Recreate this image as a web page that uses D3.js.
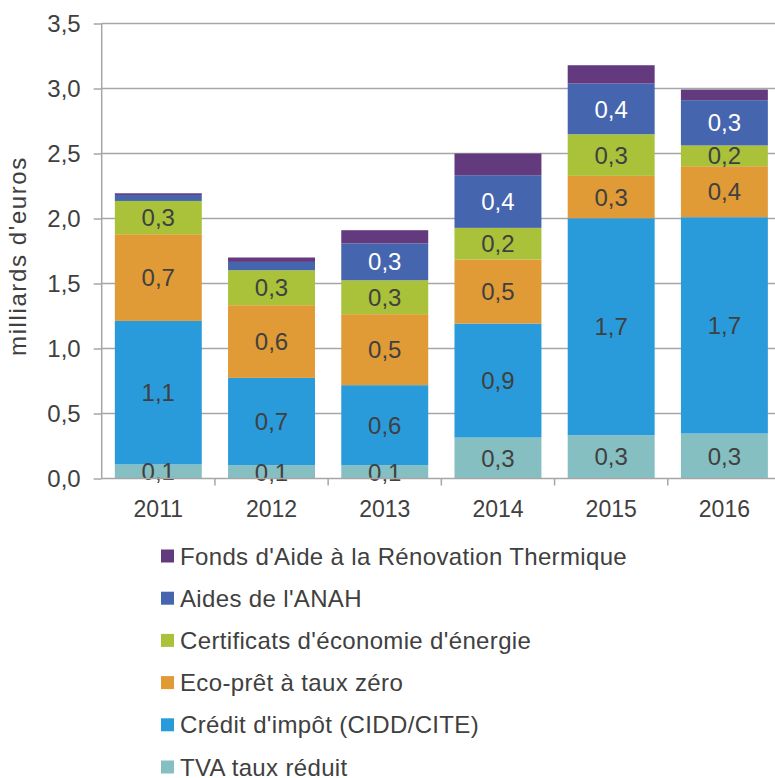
<!DOCTYPE html>
<html>
<head>
<meta charset="utf-8">
<script src="https://cdn.jsdelivr.net/npm/d3@7"></script>
<style>
  body { margin: 0; background: #fff; overflow: hidden; }
  svg { display: block; }
  svg text { font-family: "Liberation Sans", Arial, sans-serif; fill: #404040; }
</style>
</head>
<body>
<div id="chart"></div>
<script>
// years on the x axis
const years = ["2011", "2012", "2013", "2014", "2015", "2016"];

// series values, bottom of the stack first (milliards d'euros)
const tva     = [0.108, 0.102, 0.102, 0.315, 0.333, 0.346];
const credit  = [1.104, 0.672, 0.616, 0.877, 1.669, 1.664];
const ecoPret = [0.667, 0.559, 0.546, 0.493, 0.326, 0.392];
const cee     = [0.256, 0.269, 0.261, 0.243, 0.320, 0.160];
const anah    = [0.046, 0.064, 0.283, 0.405, 0.390, 0.348];
const fart    = [0.013, 0.034, 0.102, 0.167, 0.141, 0.082];

const yTicks = [0, 0.5, 1, 1.5, 2, 2.5, 3, 3.5];

const series = [
  { key: "tva",     name: "TVA taux réduit",                       values: tva,     color: "#86bfc1", label: "#404040" },
  { key: "credit",  name: "Crédit d'impôt (CIDD/CITE)",            values: credit,  color: "#299bdb", label: "#404040" },
  { key: "ecoPret", name: "Eco-prêt à taux zéro",                  values: ecoPret, color: "#e09a36", label: "#404040" },
  { key: "cee",     name: "Certificats d'économie d'énergie",      values: cee,     color: "#a9c23a", label: "#404040" },
  { key: "anah",    name: "Aides de l'ANAH",                       values: anah,    color: "#4565ae", label: "#ffffff" },
  { key: "fart",    name: "Fonds d'Aide à la Rénovation Thermique", values: fart,   color: "#643a7f", label: null }
];

const width = 775, height = 778;
const margin = { top: 23.5, right: -6, bottom: 299.5, left: 101.7 };
const innerWidth = width - margin.left - margin.right;
const innerHeight = height - margin.top - margin.bottom;

const svg = d3.select("#chart").append("svg")
  .attr("width", width)
  .attr("height", height);

const g = svg.append("g")
  .attr("transform", `translate(${margin.left},${margin.top})`);

const rows = years.map((y, i) => {
  const r = { year: y };
  series.forEach(s => r[s.key] = s.values[i]);
  return r;
});

const stacked = d3.stack().keys(series.map(s => s.key))(rows);

const x = d3.scaleBand().domain(years).range([0, innerWidth]).padding(0);
const y = d3.scaleLinear().domain([0, 3.5]).range([innerHeight, 0]);

const barPad = 0.116;
const barW = x.bandwidth() * (1 - 2 * barPad);

// gridlines
g.append("g")
  .selectAll("line")
  .data(yTicks.filter(d => d > 0))
  .enter().append("line")
    .attr("x1", 0)
    .attr("x2", innerWidth)
    .attr("y1", d => y(d))
    .attr("y2", d => y(d))
    .attr("stroke", "#a6a6a6")
    .attr("stroke-width", 1.5);

// bars
const layers = g.append("g")
  .selectAll("g")
  .data(stacked)
  .enter().append("g")
    .attr("fill", (d, i) => series[i].color);

layers.selectAll("rect")
  .data(d => d)
  .enter().append("rect")
    .attr("x", d => x(d.data.year) + x.bandwidth() * barPad)
    .attr("width", barW)
    .attr("y", d => y(d[1]))
    .attr("height", d => y(d[0]) - y(d[1]));

// value labels
const fmt = v => d3.format(".1f")(v).replace(".", ",");
stacked.forEach((layer, i) => {
  const s = series[i];
  if (!s.label) return;
  g.append("g").selectAll("text")
    .data(layer.filter(d => d[1] - d[0] >= 0.09))
    .enter().append("text")
      .attr("x", d => x(d.data.year) + x.bandwidth() / 2)
      .attr("y", d => (y(d[0]) + y(d[1])) / 2)
      .attr("dy", "0.36em")
      .attr("text-anchor", "middle")
      .style("font-size", "24px")
      .style("fill", s.label)
      .text(d => fmt(d[1] - d[0]));
});

// y axis
const yAxis = g.append("g")
  .call(d3.axisLeft(y).tickValues(yTicks).tickSize(8).tickPadding(13)
    .tickFormat(d => d3.format(".1f")(d).replace(".", ",")));
yAxis.selectAll("line, path").attr("stroke", "#a6a6a6").attr("stroke-width", 1.5);
yAxis.select(".domain").attr("d", `M0,${innerHeight}V0`);
yAxis.selectAll("text").style("font-size", "24px").style("fill", "#404040").attr("font-family", null);

// x axis
const xAxis = g.append("g")
  .attr("transform", `translate(0,${innerHeight})`)
  .call(d3.axisBottom(x).tickSize(0).tickPadding(22));
xAxis.select(".domain").attr("d", `M0,0H${innerWidth}`).attr("stroke", "#a6a6a6").attr("stroke-width", 1.5);
xAxis.selectAll("text").style("font-size", "23px").style("fill", "#404040").attr("font-family", null);
xAxis.append("g").selectAll("line")
  .data(years.slice(1))
  .enter().append("line")
    .attr("x1", d => x(d))
    .attr("x2", d => x(d))
    .attr("y1", 0)
    .attr("y2", 7)
    .attr("stroke", "#a6a6a6")
    .attr("stroke-width", 1.5);

// y axis title
svg.append("text")
  .attr("transform", `translate(26,${margin.top + innerHeight / 2 + 5}) rotate(-90)`)
  .attr("text-anchor", "middle")
  .style("font-size", "24px")
  .style("letter-spacing", "1.6px")
  .text("milliards d'euros");

// legend, top entry = last series
const legend = svg.append("g").attr("transform", "translate(161,556)");
const legendItems = legend.selectAll("g")
  .data(series.slice().reverse())
  .enter().append("g")
    .attr("transform", (d, i) => `translate(0,${i * 42.2})`);
legendItems.append("rect")
  .attr("x", 0).attr("y", -6.5)
  .attr("width", 13).attr("height", 13)
  .attr("fill", d => d.color);
legendItems.append("text")
  .attr("x", 19)
  .attr("dy", "0.36em")
  .style("font-size", "24px")
  .style("letter-spacing", "0.35px")
  .text(d => d.name);
</script>
</body>
</html>
